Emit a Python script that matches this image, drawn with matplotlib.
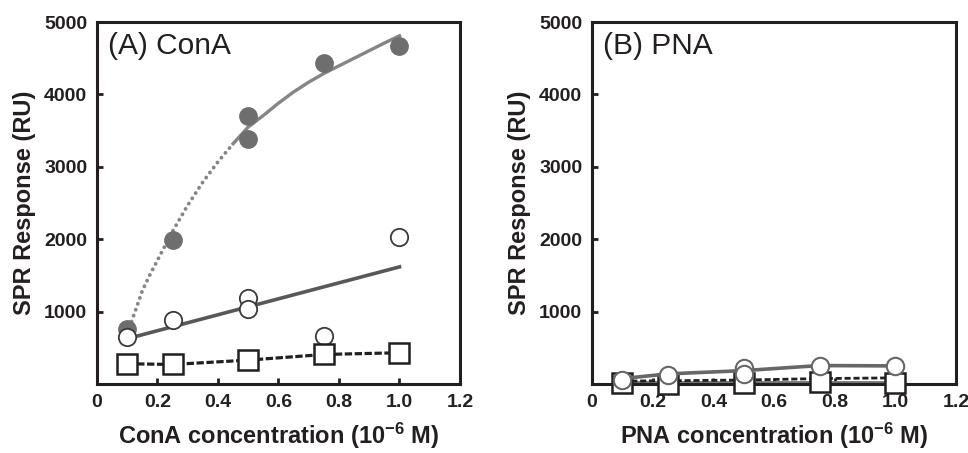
import matplotlib
matplotlib.use("Agg")
import matplotlib.pyplot as plt

plt.rcParams['font.family'] = ['Liberation Sans', 'DejaVu Sans']
plt.rcParams['mathtext.fontset'] = 'custom'
plt.rcParams['mathtext.rm'] = 'Liberation Sans:bold'
plt.rcParams['mathtext.default'] = 'rm'

# ---- panel A : ConA ----
conc_a = [0.1, 0.25, 0.5, 0.5, 0.75, 1.0]
filled_a = [755, 1990, 3700, 3385, 4435, 4670]
open_a = [655, 885, 1195, 1040, 662, 2033]
sq_x = [0.1, 0.25, 0.5, 0.75, 1.0]
sq_a = [280, 270, 330, 408, 432]

# saturating fit (dotted part, then solid part)
fit_x_dot = [0.10, 0.125, 0.15, 0.175, 0.20, 0.225, 0.25, 0.30, 0.35,
             0.40, 0.45]
fit_y_dot = [700, 990, 1290, 1510, 1710, 1910, 2110, 2470, 2790,
             3070, 3320]
fit_x_sol = [0.45, 0.50, 0.55, 0.60, 0.65, 0.70, 0.75, 0.80, 0.85,
             0.90, 0.95, 1.00]
fit_y_sol = [3320, 3550, 3710, 3880, 4035, 4170, 4290, 4395, 4500,
             4605, 4710, 4810]

# linear fit through open circles
lin_x = [0.1, 1.0]
lin_y_a = [626, 1618]

# ---- panel B : PNA ----
open_b = [62, 128, 225, 132, 255, 245]
line_b_x = [0.1, 0.25, 0.5, 0.75, 1.0]
line_b = [75, 140, 185, 255, 250]
sq_b = [10, 0, 10, 28, 20]
sq_line_b = [15, 15, 15, 15, 15]
dash_b = [40, 45, 55, 75, 85]

xticks = [0, 0.2, 0.4, 0.6, 0.8, 1.0, 1.2]
xticklabels = ["0", "0.2", "0.4", "0.6", "0.8", "1.0", "1.2"]
yticks = [1000, 2000, 3000, 4000, 5000]

ink = '#231f20'

fig = plt.figure(figsize=(9.68, 4.53), dpi=100)
ax1 = fig.add_axes([0.1002, 0.1523, 0.375, 0.799])
ax2 = fig.add_axes([0.6116, 0.1523, 0.376, 0.799])


def style(ax, xlabel, tag):
    ax.set_xlim(0, 1.2)
    ax.set_ylim(0, 5000)
    ax.set_xticks(xticks)
    ax.set_xticklabels(xticklabels)
    ax.set_yticks(yticks)
    for s in ax.spines.values():
        s.set_linewidth(2.2)
        s.set_color(ink)
    ax.tick_params(direction='in', length=4, width=2, color=ink,
                   labelsize=14, pad=7)
    for lab in ax.get_xticklabels() + ax.get_yticklabels():
        lab.set_fontweight('bold')
        lab.set_color(ink)
    ax.set_ylabel("SPR Response (RU)", fontsize=17, fontweight='bold',
                  labelpad=6, color=ink)
    ax.set_xlabel(xlabel, fontsize=17, fontweight='bold', labelpad=7,
                  color=ink)
    ax.text(0.03, 0.935, tag, transform=ax.transAxes, fontsize=21.5,
            va='center', ha='left', color=ink)


# panel A
ax1.plot(fit_x_dot, fit_y_dot, color='#858585', lw=2.8,
         dashes=(0.01, 1.6), dash_capstyle='round', zorder=2)
ax1.plot(fit_x_sol, fit_y_sol, '-', color='#858585', lw=2.4, zorder=2)
ax1.plot(conc_a, filled_a, 'o', ms=12.5, mfc='#6e6e6e', mec='#6e6e6e',
         zorder=3, linestyle='none')
ax1.plot(lin_x, lin_y_a, '-', color='#585858', lw=2.6, zorder=2)
ax1.plot(conc_a, open_a, 'o', ms=12.5, mfc='white', mec='#3a3a3a', mew=1.3,
         zorder=4, linestyle='none')
ax1.plot(sq_x, sq_a, color=ink, lw=2.3, dashes=(2.3, 0.8), zorder=4)
ax1.plot(sq_x, sq_a, 's', ms=14, mfc='white', mec=ink, mew=1.8,
         zorder=5, linestyle='none', clip_on=False)
style(ax1, "ConA concentration (10$^{-6}$ M)", "(A) ConA")

# panel B
ax2.plot(sq_x, sq_line_b, '-', color='#777777', lw=3.5, zorder=2,
         clip_on=False)
ax2.plot(sq_x, dash_b, color=ink, lw=2.0, dashes=(2.2, 1.0), zorder=3)
ax2.plot(sq_x, sq_b, 's', ms=14, mfc='white', mec=ink, mew=1.8,
         zorder=4, linestyle='none', clip_on=False)
ax2.plot(line_b_x, line_b, '-', color='#666666', lw=2.6, zorder=5)
ax2.plot(conc_a, open_b, 'o', ms=12.5, mfc='white', mec='#666666', mew=1.5,
         zorder=6, linestyle='none', clip_on=False)
style(ax2, "PNA concentration (10$^{-6}$ M)", "(B) PNA")

fig.savefig("out.png", dpi=100)
